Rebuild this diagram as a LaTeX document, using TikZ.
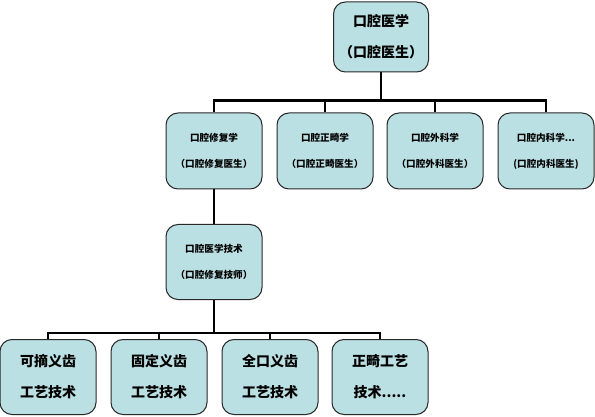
\documentclass[tikz,border=0pt]{standalone}
\usepackage{fontspec}
\newfontfamily\cjk{Noto Sans CJK SC}
\definecolor{boxfill}{RGB}{187,224,227}
\definecolor{boxline}{RGB}{40,40,40}
\tikzset{
  unit/.style={draw=boxline, fill=boxfill, line width=1pt, rounded corners=12pt,
    minimum width=96pt, minimum height=76pt, align=center, inner sep=0pt},
  big/.style={font={\cjk\bfseries\fontsize{14}{31}\selectfont}},
  small/.style={font={\cjk\bfseries\fontsize{9.6}{26}\selectfont}},
  link/.style={line width=2.6pt, black}
}
\begin{document}
\begin{tikzpicture}[x=1pt, y=-1pt]
    \useasboundingbox (0,0) rectangle (595,417);
    % Top
    \node[unit, big, minimum width=95pt, minimum height=70pt] (top) at (381,37) {口腔医学\\（口腔医生）};

    % Specialties
    \node[unit, small] (fuxue) at (214,151) {口腔修复学\\（口腔修复医生）};
    \node[unit, small] (zhengji) at (325,151) {口腔正畸学\\（口腔正畸医生）};
    \node[unit, small] (waike) at (435,151) {口腔外科学\\（口腔外科医生）};
    \node[unit, small] (neike) at (546,151) {口腔内科学...\\(口腔内科医生)};

    % Technician
    \node[unit, small, minimum height=75pt] (jishu) at (214,262) {口腔医学技术\\（口腔修复技师）};

    % Crafts
    \node[unit, big, minimum height=75pt] (kezhai) at (48,377) {可摘义齿\\工艺技术};
    \node[unit, big, minimum height=75pt] (guding) at (159,377) {固定义齿\\工艺技术};
    \node[unit, big, minimum height=75pt] (quankou) at (270,377) {全口义齿\\工艺技术};
    \node[unit, big, minimum height=75pt] (zhengjigy) at (380,377) {正畸工艺\\技术.....};

    % Connectors
    \foreach \n in {fuxue, zhengji, waike, neike}
        \draw[link] (top.south) |- ++(0,28) -| (\n.north);
    \draw[link] (fuxue.south) -- (jishu.north);
    \foreach \n in {kezhai, guding, quankou, zhengjigy}
        \draw[link] (jishu.south) |- ++(0,33) -| (\n.north);
\end{tikzpicture}
\end{document}
